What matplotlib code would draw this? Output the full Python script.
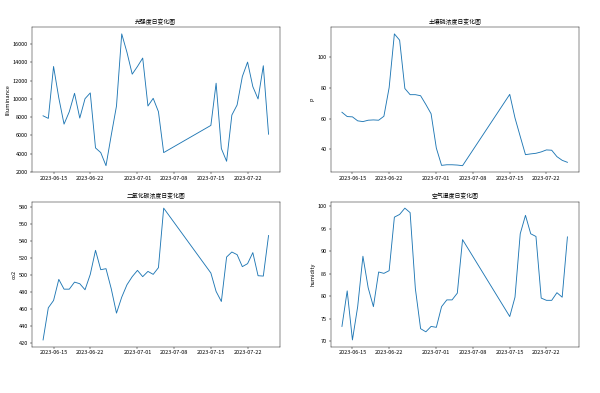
import matplotlib
matplotlib.use("Agg")
import matplotlib.pyplot as plt
import pandas as pd

plt.rcParams['font.family'] = ['Noto Sans CJK SC', 'DejaVu Sans']
plt.rcParams['axes.unicode_minus'] = False

dates = list(pd.date_range('2023-06-13', '2023-07-06', freq='D')) + \
        list(pd.date_range('2023-07-15', '2023-07-26', freq='D'))

light = [8150, 7870, 13540, 10100, 7240, 8600, 10610, 7900, 10020, 10650,
         4640, 4130, 2700, 6030, 9220, 17100, 15080, 12700, 13540, 14460,
         9220, 10060, 8600, 4130,
         7100, 11710, 4570, 3180, 8230, 9330, 12440, 14020, 11340, 9990, 13620, 6140]

soil_p = [64.1, 61.3, 61.1, 58.5, 58.0, 58.9, 59.1, 58.9, 61.5, 80.2,
          115.3, 111.2, 79.6, 75.6, 75.6, 74.9, 69.2, 63.1, 40.7, 29.4,
          29.8, 29.8, 29.6, 29.2,
          75.8, 60.4, 48.3, 36.4, 36.9, 37.3, 38.2, 39.5, 39.3, 35.1, 32.7, 31.4]

co2 = [423.5, 461.3, 469.9, 494.7, 483.2, 483.2, 491.5, 489.6, 482.5, 500.6,
       528.9, 506.1, 507.3, 483.7, 455.0, 473.8, 488.4, 497.9, 505.3, 497.9,
       504.1, 500.6, 508.5, 578.5,
       502.2, 480.5, 468.7, 521.0, 526.9, 523.8, 509.7, 513.2, 526.2, 499.0, 498.6, 546.3]

humidity = [73.3, 81.2, 70.3, 77.7, 88.9, 81.9, 77.7, 85.4, 85.1, 85.7,
            97.6, 98.2, 99.6, 98.6, 81.7, 72.8, 72.1, 73.3, 73.1, 77.7,
            79.2, 79.2, 80.7, 92.6,
            75.5, 79.8, 93.9, 98.0, 93.9, 93.3, 79.6, 79.1, 79.1, 80.8, 79.8, 93.2]

titles = ['光强度日变化图', '土壤磷浓度日变化图', '二氧化碳浓度日变化图', '空气湿度日变化图']
ylabels = ['Illuminance', 'P', 'co2', 'humidity']
series = [light, soil_p, co2, humidity]

fig, axes = plt.subplots(2, 2, figsize=(15, 9.825), dpi=40)
fig.subplots_adjust(left=0.053, right=0.9645, top=0.9305, bottom=0.1183,
                    wspace=0.205, hspace=0.202)

for ax, t, yl, s in zip(axes.flat, titles, ylabels, series):
    ax.plot(dates, s, color='#1f77b4', linewidth=1.6)
    ax.set_title(t, fontsize=10.5)
    ax.set_ylabel(yl, fontsize=10)
    ax.tick_params(labelsize=10)

fig.savefig('out.png', dpi=40)
